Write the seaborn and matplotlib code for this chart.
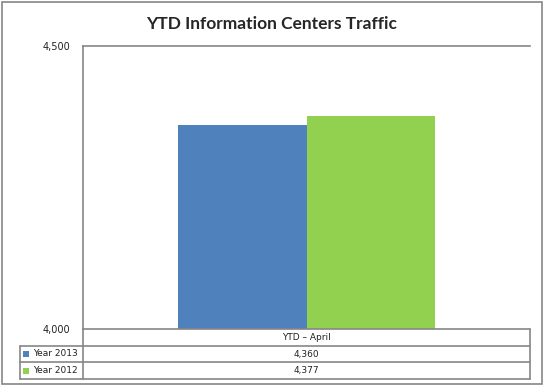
import pandas as pd
import matplotlib
matplotlib.use('Agg')
import matplotlib.pyplot as plt
import seaborn as sns
from matplotlib.lines import Line2D
from matplotlib.patches import Rectangle

# data
category = ['YTD \u2013 April']
series = ['Year 2013', 'Year 2012']
values = [4360, 4377]
colors = ['#4F81BD', '#92D050']
yticks = [4000, 4500]
title = 'YTD Information Centers Traffic'

df = pd.DataFrame({'cat': category * len(series), 'series': series, 'value': values})

W, H = 546, 387
sns.set_style('white')
plt.rcParams['font.family'] = ['DejaVu Sans']

fig = plt.figure(figsize=(W / 100, H / 100), dpi=100)
ax = fig.add_axes([83 / W, 1 - 329 / H, (530 - 83) / W, (329 - 46) / H])

sns.barplot(data=df, x='cat', y='value', hue='series', palette=colors,
            width=0.573, gap=0, saturation=1, ax=ax, legend=False, linewidth=0)

ax.set_xlim(-0.5, 0.5)
ax.set_ylim(yticks[0], yticks[-1])
ax.set_yticks(yticks)
ax.set_yticklabels([f'{v:,}' for v in yticks], fontsize=7, color='#222222')
ax.tick_params(axis='y', length=0, pad=9)
ax.set_xticks([])
ax.set_xlabel('')
ax.set_ylabel('')
line_col = '#868686'
for s in ['right', 'bottom']:
    ax.spines[s].set_visible(False)
for s in ['left', 'top']:
    ax.spines[s].set_color(line_col)
    ax.spines[s].set_linewidth(1.2)

fig.suptitle(title, x=272 / W, y=1 - 24 / H, va='center', fontsize=12.5,
             fontweight='bold', family='Lato')


def px(x):
    return x / W


def py(y):
    return 1 - y / H


def hline(y, x0, x1):
    fig.add_artist(Line2D([px(x0), px(x1)], [py(y), py(y)], color=line_col, lw=1.2))


def vline(x, y0, y1):
    fig.add_artist(Line2D([px(x), px(x)], [py(y0), py(y1)], color=line_col, lw=1.2))


# outer border
fig.add_artist(Rectangle((px(2), py(384)), px(542) - px(2), py(2) - py(384),
                         fill=False, edgecolor=line_col, lw=1.2))

# data table below the plot
hline(329, 83, 530)
for y in [346, 362, 379]:
    hline(y, 20, 530)
vline(83, 329, 379)
vline(530, 329, 379)
vline(20, 346, 379)

cx = (83 + 530) / 2
fig.text(px(cx), py(337.5), category[0], ha='center', va='center', fontsize=6.5, color='#222222')
rows_y = [354, 370.5]
for name, val, col, y in zip(series, values, colors, rows_y):
    fig.add_artist(Rectangle((px(23), py(y + 3)), px(6) - px(0), py(0) - py(6),
                             facecolor=col, edgecolor='none'))
    fig.text(px(33), py(y), name, ha='left', va='center', fontsize=6.5, color='#222222')
    fig.text(px(cx), py(y), f'{val:,}', ha='center', va='center', fontsize=6.5, color='#222222')

fig.savefig('out.png', dpi=100)
